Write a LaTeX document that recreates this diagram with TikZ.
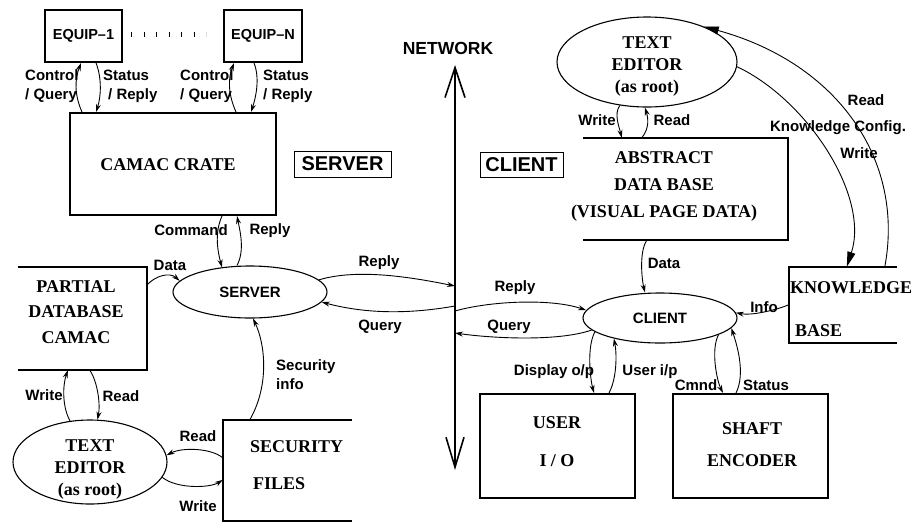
\documentclass[tikz,border=0pt]{standalone}
\usepackage{fontspec}
\setmainfont{Liberation Serif}
\setsansfont{Liberation Sans}
\usetikzlibrary{arrows.meta,calc,shapes.geometric}
\begin{document}
\begin{tikzpicture}[x=1pt,y=-1pt,
  lbl/.style={font=\sffamily\bfseries\fontsize{15}{19}\selectfont, inner sep=0pt},
  ttl/.style={font=\bfseries\fontsize{18}{25}\selectfont, inner sep=0pt, align=center},
  boxn/.style={draw, line width=2pt, inner sep=0pt},
  openbox/.style={inner sep=0pt},
  boxline/.style={line width=2pt},
  oval/.style={draw, ellipse, line width=1.1pt, inner sep=0pt},
  arr/.style={-{Stealth[length=8pt,width=5pt]}, line width=0.9pt},
  bigarr/.style={-{Triangle[length=15pt,width=8pt]}, line width=0.9pt},
  tag/.style={draw, line width=0.8pt, font=\sffamily\bfseries\fontsize{20}{22}\selectfont, inner sep=0pt},
]
\useasboundingbox (0,0) rectangle (913,523);

% ---------- server side ----------
\node[boxn, minimum width=77pt, minimum height=52pt, font=\sffamily\bfseries\fontsize{14.5}{16}\selectfont] (equip1) at (83.5,36) {EQUIP--1};
\node[boxn, minimum width=78pt, minimum height=52pt, font=\sffamily\bfseries\fontsize{14.5}{16}\selectfont] (equipN) at (263,36) {EQUIP--N};
\draw[line width=5pt, dash pattern=on 1.2pt off 11.3pt] ($(equip1.east)+(8,-1.5)$) -- ($(equipN.west)+(-17,-1.5)$);

\node[boxn, minimum width=206pt, minimum height=102pt] (camac) at (173,164) {};
\node[ttl] (camact) at (168,165) {CAMAC CRATE};

\node[tag, minimum width=97pt, minimum height=26pt] (servertag) at (342.5,164) {SERVER};
\node[tag, minimum width=83pt, minimum height=25pt] (clienttag) at (521.5,164.5) {CLIENT};

\coordinate (nettop) at (455,65);
\coordinate (netbot) at (455,470);
\draw[{Straight Barb[length=30pt,width=20pt,line width=1.6pt]}-{Straight Barb[length=30pt,width=18pt,line width=1.6pt]}, line width=1.8pt] (nettop) -- (netbot);
\node[font=\sffamily\bfseries\fontsize{17.5}{20}\selectfont, inner sep=0pt] (netlbl) at (448,48) {NETWORK};

\node[openbox, minimum width=129pt, minimum height=103pt] (partial) at (82.5,318.5) {};
\draw[boxline] (partial.north west) -- (partial.north east) -- (partial.south east) -- (partial.south west);
\node[ttl, font=\bfseries\fontsize{18}{25.5}\selectfont] (partialt) at (76,312) {PARTIAL\\DATABASE\\CAMAC};

\node[oval, minimum width=154pt, minimum height=52pt, font=\sffamily\bfseries\fontsize{15}{17}\selectfont] (serverE) at (250,292) {SERVER};

\node[oval, minimum width=154pt, minimum height=84pt] (texted2) at (90,462) {};
\node[ttl, font=\bfseries\fontsize{18}{22}\selectfont] (texted2t) at (90,470) {TEXT\\EDITOR\\(as root)};

\node[openbox, minimum width=129pt, minimum height=101pt] (security) at (287.5,470.5) {};
\draw[boxline] (security.north east) -- (security.north west) -- (security.south west) -- (security.south east);
\node[ttl, align=left, anchor=west, font=\bfseries\fontsize{18}{37}\selectfont] (securityt) at (250,465.5) {SECURITY\\\hspace{3pt}FILES};

% ---------- client side ----------
\node[oval, minimum width=180pt, minimum height=90pt] (texted1) at (647,62) {};
\node[ttl, font=\bfseries\fontsize{18}{22}\selectfont] (texted1t) at (647,67) {TEXT\\EDITOR\\(as root)};

\node[openbox, minimum width=205pt, minimum height=102pt] (abstract) at (685.5,189) {};
\draw[boxline] (abstract.north west) -- (abstract.north east) -- (abstract.south east) -- (abstract.south west);
\node[ttl, font=\bfseries\fontsize{18}{27}\selectfont] (abstractt) at (664,186) {ABSTRACT\\DATA BASE\\(VISUAL PAGE DATA)};

\node[openbox, minimum width=108pt, minimum height=76pt] (knowledge) at (843,305) {};
\draw[boxline] (knowledge.north east) -- (knowledge.north west) -- (knowledge.south west) -- (knowledge.south east);
\node[ttl, align=left, anchor=west, font=\bfseries\fontsize{18}{43}\selectfont] (knowledget) at (790,309) {KNOWLEDGE\\\hspace{5pt}BASE};

\node[oval, minimum width=154pt, minimum height=50pt, font=\sffamily\bfseries\fontsize{15}{17}\selectfont] (clientE) at (660,318) {CLIENT};

\node[boxn, minimum width=155pt, minimum height=104pt] (user) at (557.5,446) {};
\node[ttl, font=\bfseries\fontsize{18}{38}\selectfont] (usert) at (557,442) {USER\\I / O};
\node[boxn, minimum width=155pt, minimum height=104pt] (shaft) at (750.5,446) {};
\node[ttl, font=\bfseries\fontsize{18}{32}\selectfont] (shaftt) at (752,445) {SHAFT\\ENCODER};

% ---------- connectors: server side ----------
\draw[arr] ($(camac.north west)+(13,0)$) .. controls +(-8,-18) and +(-6,16) .. ($(equip1.south west)+(37,0)$);
\draw[arr] ($(equip1.south west)+(52,0)$) .. controls +(6,15) and +(5,-15) .. ($(camac.north west)+(27,0)$);
\draw[arr] ($(camac.north west)+(167,0)$) .. controls +(-8,-18) and +(-6,16) .. ($(equipN.south west)+(11,0)$);
\draw[arr] ($(equipN.south west)+(31,0)$) .. controls +(6,15) and +(5,-15) .. ($(camac.north west)+(182,0)$);

\draw[arr] ($(camac.south west)+(153,0)$) .. controls +(-8,18) and +(-4,-15) .. ($(serverE.north)+(-28,2)$);
\draw[arr] ($(serverE.north)+(-13,0)$) .. controls +(8,-15) and +(3,15) .. ($(camac.south west)+(168,0)$);
\draw[arr] ($(partial.north east)+(0,18)$) .. controls +(8,-9) and +(-10,-9) .. (serverE.171);
\draw[arr] (serverE.10) .. controls +(40,-12) and +(-40,-8) .. ($(nettop)+(0,221)$);
\draw[arr] ($(nettop)+(0,241)$) .. controls +(-45,8) and +(45,12) .. (serverE.-8);
\draw[arr] ($(security.north west)+(27,0)$) .. controls +(20,-35) and +(12,25) .. ($(serverE.south)+(3,0)$);
\draw[arr] (texted2.116) .. controls +(-8,-15) and +(-5,15) .. ($(partial.south west)+(50,0)$);
\draw[arr] ($(partial.south west)+(72,0)$) .. controls +(8,12) and +(3,-15) .. (texted2.80);
\draw[arr] ($(security.north west)+(0,38)$) .. controls +(-12,-10) and +(15,-8) .. (texted2.5);
\draw[arr] (texted2.-12) .. controls +(15,12) and +(-12,8) .. ($(security.north west)+(0,60)$);

% ---------- connectors: client side ----------
\draw[arr] (texted1.-122) .. controls +(-6,8) and +(-3,-12) .. ($(abstract.north west)+(39,0)$);
\draw[arr] ($(abstract.north west)+(59,0)$) .. controls +(8,-10) and +(3,10) .. ($(texted1.south)+(-2,0)$);
\draw[arr] ($(abstract.south west)+(64,0)$) .. controls +(-8,12) and +(-3,-12) .. ($(clientE.north)+(-15,0)$);
\draw[arr] ($(nettop)+(0,246)$) .. controls +(35,-10) and +(-35,-12) .. (clientE.174);
\draw[arr] (clientE.-170) .. controls +(-35,12) and +(35,5) .. ($(nettop)+(0,268)$);
\draw[arr] (clientE.-168) .. controls +(-8,15) and +(-4,-15) .. ($(user.north west)+(115,0)$);
\draw[arr] ($(user.north west)+(130,0)$) .. controls +(8,-15) and +(3,15) .. (clientE.-156);
\draw[arr] (clientE.-16) .. controls +(-8,15) and +(-6,-12) .. ($(shaft.north west)+(51,0)$);
\draw[arr] ($(shaft.north west)+(64,0)$) .. controls +(10,-20) and +(5,15) .. (clientE.-8);
\draw[arr] ($(knowledge.north west)+(0,38)$) .. controls +(-15,6) and +(15,3) .. (clientE.4);
\draw[bigarr] (texted1.-3) .. controls +(70,33) and +(23,-71) .. ($(knowledge.north west)+(58,0)$);
\draw[bigarr] ($(knowledge.north west)+(96,0)$) .. controls +(20,-107) and +(134,37) .. (texted1.32);

% ---------- labels ----------
\node[lbl, anchor=west, align=left] (lcq1) at (25,86) {Control\\/ Query};
\node[lbl, anchor=west, align=left] (lsr1) at (103,86) {Status\\\hspace{5pt}/ Reply};
\node[lbl, anchor=west, align=left] (lcqn) at (180,86) {Control\\/ Query};
\node[lbl, anchor=west, align=left] (lsrn) at (263,86) {Status\\/ Reply};
\node[lbl] (lcmd) at (191,230) {Command};
\node[lbl] (lrep1) at (270,231) {Reply};
\node[lbl] (ldata1) at (170,265) {Data};
\node[lbl] (lrep2) at (379,263) {Reply};
\node[lbl] (lqry2) at (380,327) {Query};
\node[lbl, anchor=west, align=left] (lsec) at (276,375) {Security\\info};
\node[lbl] (lw1) at (44,395) {Write};
\node[lbl] (lr1) at (121,396) {Read};
\node[lbl] (lr2) at (198,436) {Read};
\node[lbl] (lw2) at (198,506) {Write};
\node[lbl] (lw3) at (597,120) {Write};
\node[lbl] (lr3) at (672,120) {Read};
\node[lbl] (lr4) at (866,100) {Read};
\node[lbl] (lkc) at (838,128) {Knowledge Config.};
\node[lbl] (lw4) at (859,153) {Write};
\node[lbl] (ldata2) at (664,263) {Data};
\node[lbl] (lrep3) at (515,288) {Reply};
\node[lbl] (lqry3) at (509,327) {Query};
\node[lbl] (linfo) at (764,307) {Info};
\node[lbl] (ldisp) at (554,372) {Display o/p};
\node[lbl] (luser) at (650,372) {User i/p};
\node[lbl] (lcmnd) at (696,385) {Cmnd};
\node[lbl] (lstat) at (766,385) {Status};
\end{tikzpicture}
\end{document}
